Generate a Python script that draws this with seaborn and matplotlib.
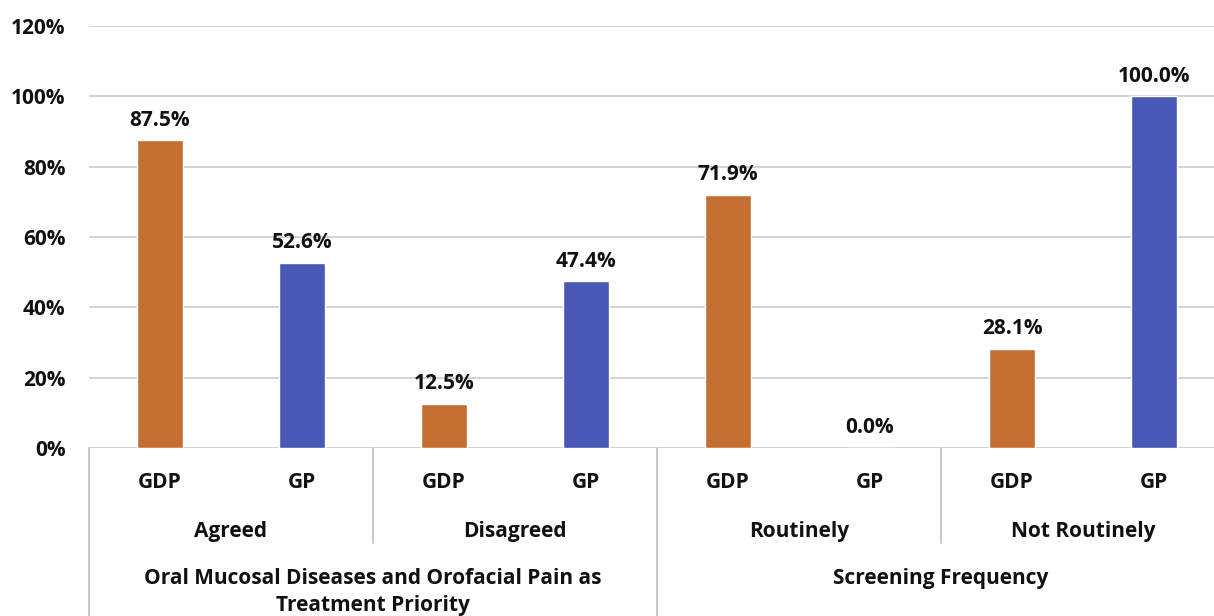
import matplotlib
matplotlib.use("Agg")
import matplotlib.pyplot as plt
from matplotlib.lines import Line2D
from matplotlib.transforms import blended_transform_factory
import seaborn as sns
import pandas as pd

# --- data -----------------------------------------------------------------
questions = ["Oral Mucosal Diseases and Orofacial Pain as\nTreatment Priority",
             "Screening Frequency"]
responses = ["Agreed", "Disagreed", "Routinely", "Not Routinely"]
professions = ["GDP", "GP"]
gdp_values = [87.5, 12.5, 71.9, 28.1]
gp_values = [52.6, 47.4, 0.0, 100.0]
y_ticks = [0, 20, 40, 60, 80, 100, 120]

colors = {"GDP": "#C46F31", "GP": "#4858B4"}
line_gray = "#C8C8C8"
FS = 15

rows = []
for resp, g, p in zip(responses, gdp_values, gp_values):
    rows.append({"slot": f"{resp}|GDP", "profession": "GDP", "share": g / 100})
    rows.append({"slot": f"{resp}|GP", "profession": "GP", "share": p / 100})
df = pd.DataFrame(rows)
slots = list(df["slot"])

# --- figure ---------------------------------------------------------------
sns.set_theme(style="white")
plt.rcParams["font.family"] = ["Open Sans", "DejaVu Sans"]
plt.rcParams["font.weight"] = "bold"

W, H = 1214, 616
fig = plt.figure(figsize=(W / 100, H / 100), dpi=100)
ax_left, ax_right, ax_top, ax_bottom = 89, 1225, 26, 448
ax = fig.add_axes([ax_left / W, (H - ax_bottom) / H,
                   (ax_right - ax_left) / W, (ax_bottom - ax_top) / H])

sns.barplot(data=df, x="slot", y="share", hue="profession", order=slots,
            hue_order=professions, palette=colors, dodge=False, width=0.32,
            saturation=1, legend=False, ax=ax)

ax.set_xlim(-0.5, len(slots) - 0.5)
ax.set_ylim(0, 1.2)
ax.set_yticks([t / 100 for t in y_ticks])
ax.set_yticklabels([f"{t}%" for t in y_ticks], fontsize=FS, fontweight="bold",
                   color="#111111")
ax.tick_params(axis="y", length=0, pad=17)
ax.set_xticks(range(len(slots)))
ax.set_xticklabels([s.split("|")[1] for s in slots], fontsize=FS,
                   fontweight="bold", color="#111111")
ax.tick_params(axis="x", length=0, pad=17)
ax.set_xlabel("")
ax.set_ylabel("")
ax.yaxis.grid(True, color="#D2D2D2", linewidth=1.4)
ax.set_axisbelow(True)
for sp in ax.spines.values():
    sp.set_visible(False)

# value labels above each bar
for i, v in enumerate(df["share"]):
    ax.annotate(f"{v * 100:.1f}%", (i, v), xytext=(0, 7),
                textcoords="offset points", ha="center", va="bottom",
                fontsize=FS, fontweight="bold", color="#111111")

# grouped category axis
trans = blended_transform_factory(ax.transData, ax.transAxes)
ax_h = ax_bottom - ax_top
for k, resp in enumerate(responses):
    ax.text(2 * k + 0.5, -83 / ax_h, resp, transform=trans, ha="center",
            va="center", fontsize=FS, fontweight="bold", color="#111111")
for k, q in enumerate(questions):
    ax.text(4 * k + 1.5, -120 / ax_h, q, transform=trans, ha="center",
            va="top", fontsize=FS, fontweight="bold", color="#111111",
            linespacing=1.38)

short_y = -95 / ax_h
long_y = -(H - ax_bottom + 5) / ax_h
for x in [1.5, 5.5]:
    ax.add_line(Line2D([x, x], [0, short_y], transform=trans, color=line_gray,
                       linewidth=1.4, clip_on=False))
for x in [-0.5, 3.5, 7.5]:
    ax.add_line(Line2D([x, x], [0, long_y], transform=trans, color=line_gray,
                       linewidth=1.4, clip_on=False))

fig.savefig("out.png", dpi=100)
